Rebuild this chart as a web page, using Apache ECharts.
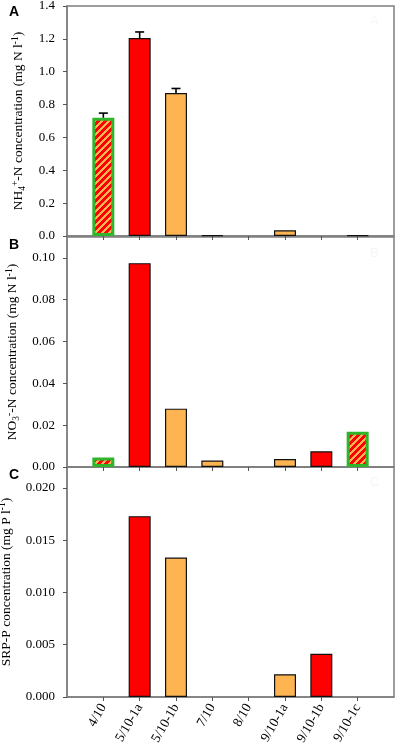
<!DOCTYPE html>
<html>
<head>
<meta charset="utf-8">
<script src="https://cdn.jsdelivr.net/npm/echarts@6/dist/echarts.min.js"></script>
<style>
html,body{margin:0;padding:0;background:#fff;}
#chart{width:397px;height:747px;}
</style>
</head>
<body>
<div id="chart"></div>
<script>
// ---- data ----
var categories = ['4/10', '5/10-1a', '5/10-1b', '7/10', '8/10', '9/10-1a', '9/10-1b', '9/10-1c'];
var nh4Values = [0.72, 1.205, 0.87, 0.005, 0, 0.035, 0, 0.004];
var nh4Errors = [0.028, 0.037, 0.028, 0, 0, 0, 0, 0];
var no3Values = [0.0045, 0.0975, 0.0279, 0.0031, 0, 0.0038, 0.0075, 0.0168];
var srpValues = [0, 0.0173, 0.01334, 0, 0, 0.00218, 0.00413, 0];
var nh4Types = ['hatch', 'red', 'orange', 'orange', 'orange', 'orange', 'red', 'orange'];
var no3Types = ['hatch', 'red', 'orange', 'orange', 'orange', 'orange', 'red', 'hatch'];
var srpTypes = ['hatch', 'red', 'orange', 'orange', 'orange', 'orange', 'red', 'hatch'];
var nh4Ticks = [0, 1.4, 0.2];
var no3Ticks = [0, 0.11, 0.02];
var srpTicks = [0, 0.022, 0.005];
var panelLetters = ['A', 'B', 'C'];

// ---- styles ----
var RED = '#ff0000', ORANGE = '#ffb452', GREEN = '#2fb52a', AXIS = '#7f7f7f';
var SERIF = '"Liberation Serif", "Times New Roman", serif';
var SANS = '"Liberation Sans", Arial, sans-serif';

function makeHatch() {
  var s = 7, c = document.createElement('canvas');
  c.width = s; c.height = s;
  var ctx = c.getContext('2d');
  for (var y = 0; y < s; y++) {
    for (var x = 0; x < s; x++) {
      ctx.fillStyle = ((x + y) % s) < 3.5 ? RED : ORANGE;
      ctx.fillRect(x, y, 1, 1);
    }
  }
  return c;
}
var hatchCanvas = makeHatch();

function styleFor(t) {
  if (t === 'hatch') return {color: {image: hatchCanvas, repeat: 'repeat'}, borderColor: GREEN, borderWidth: 3};
  if (t === 'red') return {color: RED, borderColor: '#111', borderWidth: 1.2};
  return {color: ORANGE, borderColor: '#111', borderWidth: 1.2};
}

var grids = [
  {left: 67, top: 6, width: 327, height: 230},
  {left: 67, top: 237, width: 327, height: 230},
  {left: 67, top: 467, width: 327, height: 230}
];

var tickVals = categories.map(function (c, i) { return i; });

function xAxisFor(idx, showLabels) {
  return {
    type: 'value', gridIndex: idx, min: -1, max: 8, interval: 1,
    splitLine: {show: false},
    axisLine: {show: true, onZero: false, lineStyle: {color: AXIS, width: 1.5}},
    axisTick: {show: true, inside: false, length: 4, customValues: tickVals, lineStyle: {color: '#555'}},
    axisLabel: {
      show: showLabels, customValues: tickVals, rotate: 60, margin: 8,
      fontFamily: SERIF, fontSize: 13.5, color: '#000',
      formatter: function (v) { return categories[Math.round(v)] || ''; }
    }
  };
}

function yAxisFor(idx, ticks, decimals, nameRich) {
  return {
    type: 'value', gridIndex: idx, min: ticks[0], max: ticks[1], interval: ticks[2],
    splitLine: {show: false},
    axisLine: {show: true, onZero: false, lineStyle: {color: AXIS, width: 1.5}},
    axisTick: {show: true, inside: false, length: 4, lineStyle: {color: '#555'}},
    axisLabel: {
      margin: 12, fontFamily: SERIF, fontSize: 13, color: '#000', showMaxLabel: idx === 0,
      formatter: function (v) { return v.toFixed(decimals); }
    },
    name: nameRich, nameLocation: 'middle', nameRotate: 90, nameGap: 40,
    nameTextStyle: {
      fontFamily: SERIF, fontSize: 13.5, color: '#000', lineHeight: 17,
      rich: {
        sub: {fontFamily: SERIF, fontSize: 9.5, verticalAlign: 'bottom', lineHeight: 17, padding: [6, 0, 0, 0]},
        sup: {fontFamily: SERIF, fontSize: 9.5, verticalAlign: 'top', lineHeight: 17, padding: [0, 0, 6, 0]}
      }
    }
  };
}

function barSeries(idx, values, types) {
  var items = [];
  values.forEach(function (v, i) {
    if (v > 0) items.push({value: [i, v], itemStyle: styleFor(types[i])});
  });
  return {
    type: 'bar', xAxisIndex: idx, yAxisIndex: idx, barWidth: 22, silent: true,
    data: items
  };
}

var errSeries = {
  type: 'custom', xAxisIndex: 0, yAxisIndex: 0, silent: true, z: 5,
  data: nh4Values.map(function (v, i) { return [i, v, nh4Errors[i]]; }).filter(function (d) { return d[2] > 0; }),
  renderItem: function (params, api) {
    var x = api.value(0), v = api.value(1), e = api.value(2);
    var base = api.coord([x, v]);
    var top = api.coord([x, v + e]);
    var st = {stroke: '#000', lineWidth: 1.6};
    return {
      type: 'group', children: [
        {type: 'line', shape: {x1: base[0], y1: base[1], x2: top[0], y2: top[1]}, style: st},
        {type: 'line', shape: {x1: top[0] - 4.5, y1: top[1], x2: top[0] + 4.5, y2: top[1]}, style: st}
      ]
    };
  }
};

var graphics = [];
var letterY = [12, 245, 475];
var ghostY = [22, 254, 483];
panelLetters.forEach(function (L, i) {
  graphics.push({type: 'text', left: 9, top: letterY[i] - 7,
    style: {text: L, font: 'bold 14px ' + SANS, fill: '#000'}});
  graphics.push({type: 'text', left: 370, top: ghostY[i] - 7,
    style: {text: L, font: '13px ' + SANS, fill: '#f6f6f6'}});
});

var option = {
  animation: false,
  backgroundColor: '#fff',
  grid: grids.map(function (g) {
    return Object.assign({
      show: true, borderColor: AXIS, borderWidth: 1.5, backgroundColor: 'transparent',
      containLabel: false, outerBoundsMode: 'none'
    }, g);
  }),
  xAxis: [xAxisFor(0, false), xAxisFor(1, false), xAxisFor(2, true)],
  yAxis: [
    yAxisFor(0, nh4Ticks, 1, 'NH{sub|4}{sup|+}-N concentration (mg N l{sup|-1})'),
    yAxisFor(1, no3Ticks, 2, 'NO{sub|3}{sup|-}-N concentration (mg N l{sup|-1})'),
    yAxisFor(2, srpTicks, 3, 'SRP-P concentration (mg P l{sup|-1})')
  ],
  series: [
    barSeries(0, nh4Values, nh4Types),
    barSeries(1, no3Values, no3Types),
    barSeries(2, srpValues, srpTypes),
    errSeries
  ],
  graphic: graphics
};

var chart = echarts.init(document.getElementById('chart'), null, {renderer: 'canvas'});
chart.setOption(option);
</script>
</body>
</html>
